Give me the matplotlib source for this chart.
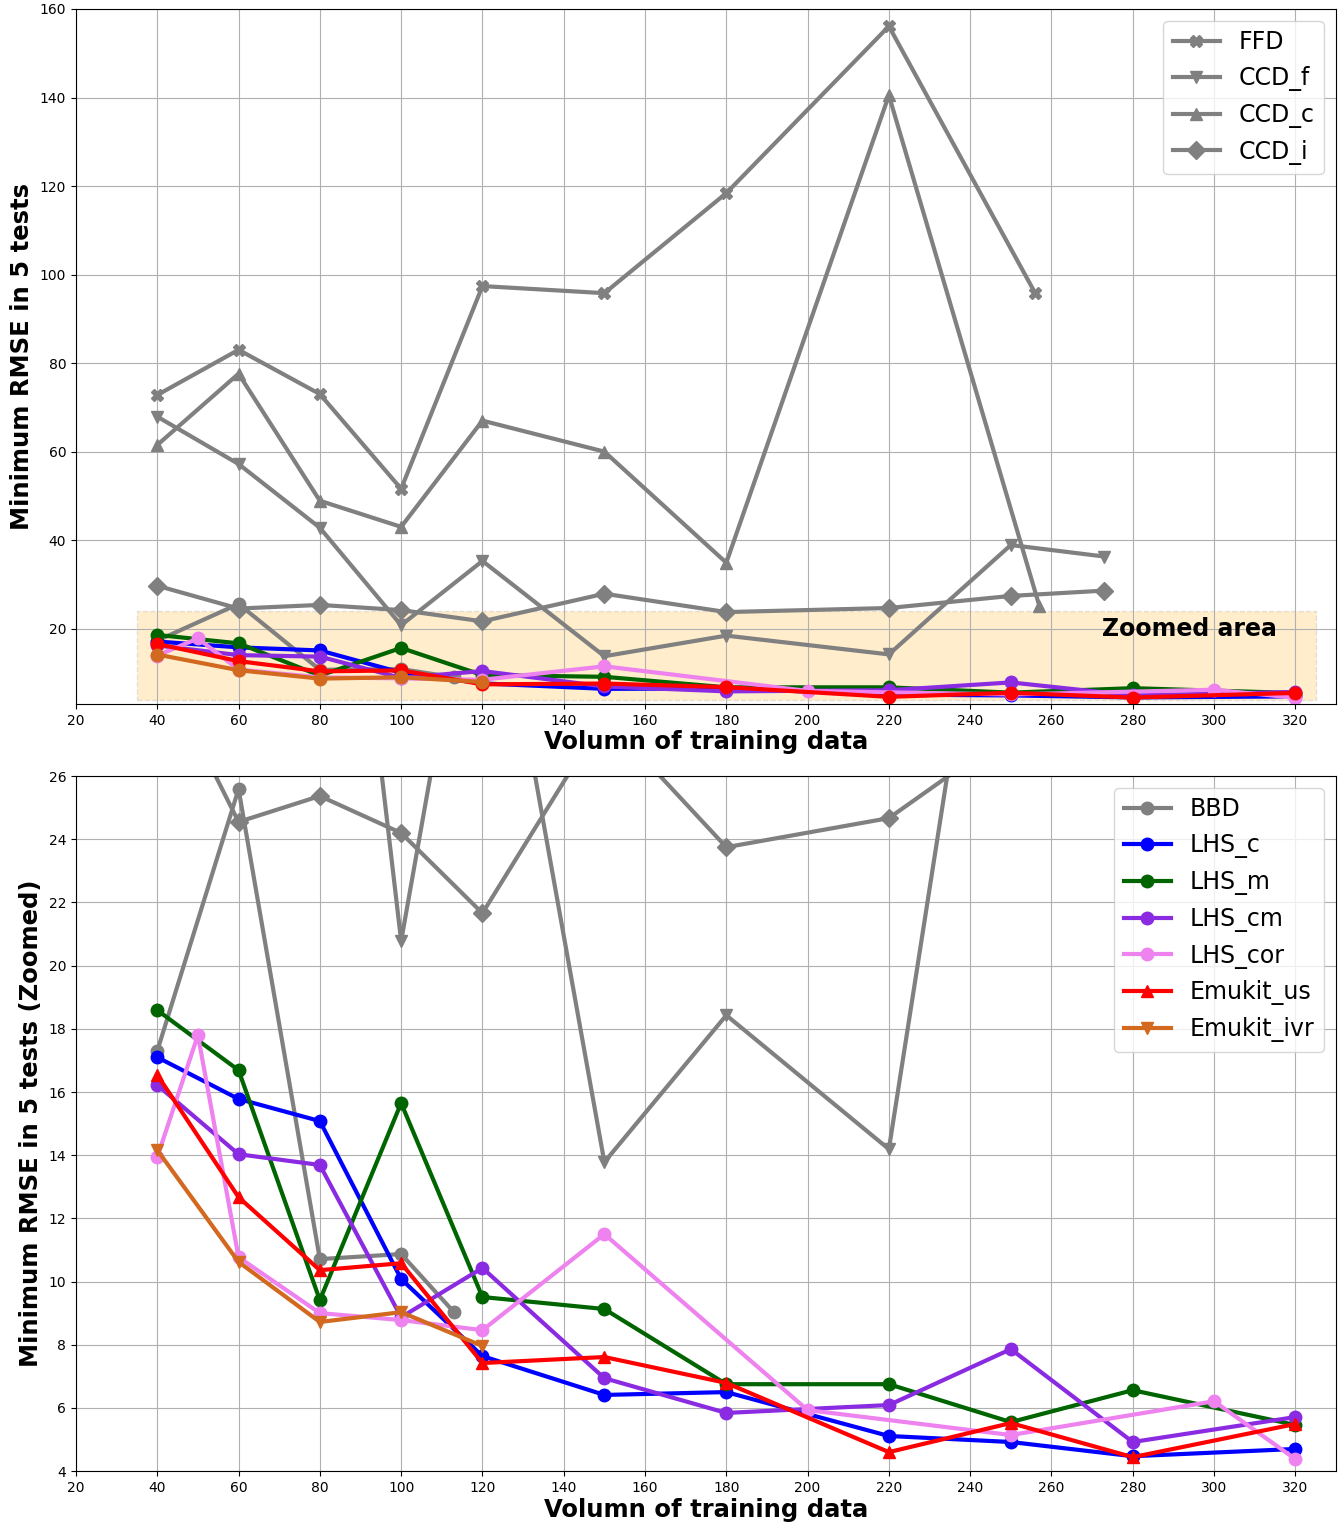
import matplotlib
matplotlib.use('Agg')
import matplotlib.pyplot as plt
from matplotlib.patches import Rectangle

# data
ffd_x = [40, 60, 80, 100, 120, 150, 180, 220, 256]
ffd_y = [72.8, 83.0, 73.0, 51.6, 97.4, 95.8, 118.4, 156.1, 95.8]

ccd_f_x = [40, 60, 80, 100, 120, 150, 180, 220, 250, 273]
ccd_f_y = [67.9, 57.2, 42.8, 20.78, 35.3, 13.78, 18.43, 14.19, 38.9, 36.3]

ccd_c_x = [40, 60, 80, 100, 120, 150, 180, 220, 257]
ccd_c_y = [61.5, 77.6, 48.9, 43.0, 67.0, 60.0, 34.9, 140.5, 25.2]

ccd_i_x = [40, 60, 80, 100, 120, 150, 180, 220, 250, 273]
ccd_i_y = [29.7, 24.55, 25.37, 24.2, 21.66, 27.9, 23.75, 24.67, 27.4, 28.6]

bbd_x = [40, 60, 80, 100, 113]
bbd_y = [17.3, 25.59, 10.71, 10.87, 9.03]

lhs_c_x = [40, 60, 80, 100, 120, 150, 180, 220, 250, 280, 320]
lhs_c_y = [17.1, 15.78, 15.08, 10.08, 7.64, 6.41, 6.5, 5.11, 4.92, 4.47, 4.70]

lhs_m_x = [40, 60, 80, 100, 120, 150, 180, 220, 250, 280, 320]
lhs_m_y = [18.59, 16.69, 9.41, 15.65, 9.51, 9.13, 6.75, 6.75, 5.55, 6.56, 5.46]

lhs_cm_x = [40, 60, 80, 100, 120, 150, 180, 220, 250, 280, 320]
lhs_cm_y = [16.22, 14.03, 13.69, 8.87, 10.43, 6.94, 5.84, 6.09, 7.86, 4.92, 5.71]

lhs_cor_x = [40, 50, 60, 80, 100, 120, 150, 200, 250, 300, 320]
lhs_cor_y = [13.94, 17.8, 10.77, 9.0, 8.78, 8.46, 11.5, 5.93, 5.14, 6.21, 4.38]

emu_us_x = [40, 60, 80, 100, 120, 150, 180, 220, 250, 280, 320]
emu_us_y = [16.54, 12.67, 10.36, 10.58, 7.42, 7.61, 6.79, 4.6, 5.52, 4.44, 5.49]

emu_ivr_x = [40, 60, 80, 100, 120]
emu_ivr_y = [14.16, 10.62, 8.72, 9.03, 7.96]

lw = 3
ms = 9

fig = plt.figure(figsize=(13.4, 15.23), dpi=100)
ax1 = fig.add_axes([0.0567, 0.5378, 0.9403, 0.4563])
ax2 = fig.add_axes([0.0567, 0.0341, 0.9403, 0.4563])

# top plot: all data + zoomed area box
ax1.add_patch(Rectangle((35, 4), 290, 20, facecolor='orange', alpha=0.2,
                        edgecolor='gray', linestyle='--', linewidth=1))
h_ffd, = ax1.plot(ffd_x, ffd_y, color='gray', marker='X', lw=lw, ms=ms, label='FFD')
h_ccdf, = ax1.plot(ccd_f_x, ccd_f_y, color='gray', marker='v', lw=lw, ms=ms, label='CCD_f')
h_ccdc, = ax1.plot(ccd_c_x, ccd_c_y, color='gray', marker='^', lw=lw, ms=ms, label='CCD_c')
h_ccdi, = ax1.plot(ccd_i_x, ccd_i_y, color='gray', marker='D', lw=lw, ms=ms, label='CCD_i')
ax1.plot(bbd_x, bbd_y, color='gray', marker='o', lw=lw, ms=ms)
ax1.plot(lhs_c_x, lhs_c_y, color='blue', marker='o', lw=lw, ms=ms)
ax1.plot(lhs_m_x, lhs_m_y, color='darkgreen', marker='o', lw=lw, ms=ms)
ax1.plot(lhs_cm_x, lhs_cm_y, color='blueviolet', marker='o', lw=lw, ms=ms)
ax1.plot(lhs_cor_x, lhs_cor_y, color='violet', marker='o', lw=lw, ms=ms)
ax1.plot(emu_us_x, emu_us_y, color='red', marker='o', lw=lw, ms=ms)
ax1.plot(emu_ivr_x, emu_ivr_y, color='chocolate', marker='o', lw=lw, ms=ms)
ax1.text(294, 20, 'Zoomed area', fontsize=17, fontweight='bold', ha='center', va='center')
ax1.set_xlim(20, 330)
ax1.set_ylim(3, 160)
ax1.set_xticks(range(20, 321, 20))
ax1.set_xlabel('Volumn of training data', fontsize=17.5, fontweight='bold', labelpad=2)
ax1.set_ylabel('Minimum RMSE in 5 tests', fontsize=17.5, fontweight='bold')
ax1.legend(handles=[h_ffd, h_ccdf, h_ccdc, h_ccdi], loc='upper right', fontsize=17)
ax1.grid(True)

# bottom plot: zoomed
ax2.plot(ffd_x, ffd_y, color='gray', marker='X', lw=lw, ms=ms)
ax2.plot(ccd_f_x, ccd_f_y, color='gray', marker='v', lw=lw, ms=ms)
ax2.plot(ccd_i_x, ccd_i_y, color='gray', marker='D', lw=lw, ms=ms)
ax2.plot(bbd_x, bbd_y, color='gray', marker='o', lw=lw, ms=ms, label='BBD')
ax2.plot(lhs_c_x, lhs_c_y, color='blue', marker='o', lw=lw, ms=ms, label='LHS_c')
ax2.plot(lhs_m_x, lhs_m_y, color='darkgreen', marker='o', lw=lw, ms=ms, label='LHS_m')
ax2.plot(lhs_cm_x, lhs_cm_y, color='blueviolet', marker='o', lw=lw, ms=ms, label='LHS_cm')
ax2.plot(lhs_cor_x, lhs_cor_y, color='violet', marker='o', lw=lw, ms=ms, label='LHS_cor')
ax2.plot(emu_us_x, emu_us_y, color='red', marker='^', lw=lw, ms=ms, label='Emukit_us')
ax2.plot(emu_ivr_x, emu_ivr_y, color='chocolate', marker='v', lw=lw, ms=ms, label='Emukit_ivr')
ax2.set_xlim(20, 330)
ax2.set_ylim(4, 26)
ax2.set_xticks(range(20, 321, 20))
ax2.set_yticks(range(4, 27, 2))
ax2.set_xlabel('Volumn of training data', fontsize=17.5, fontweight='bold', labelpad=2)
ax2.set_ylabel('Minimum RMSE in 5 tests (Zoomed)', fontsize=17.5, fontweight='bold')
ax2.legend(loc='upper right', fontsize=17)
ax2.grid(True)

fig.savefig('out.png', dpi=100)
